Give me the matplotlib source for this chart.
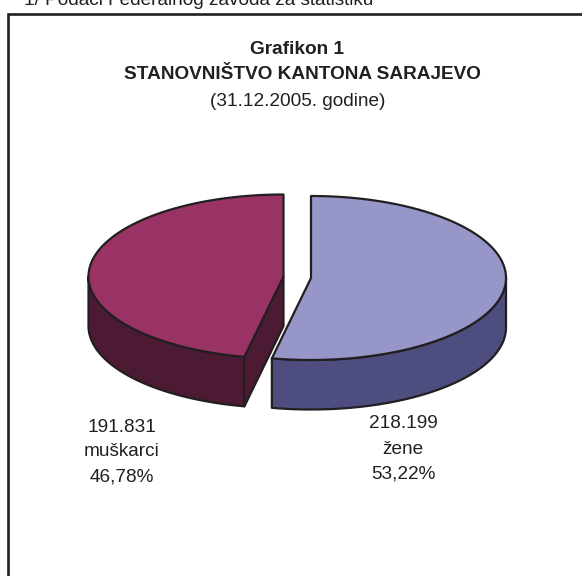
import numpy as np
import matplotlib
matplotlib.use("Agg")
import matplotlib.pyplot as plt
from matplotlib.patches import Polygon, Rectangle

plt.rcParams['font.family'] = ['Liberation Sans', 'DejaVu Sans']

categories = ["žene", "muškarci"]
values = [218199, 191831]
value_labels = ["218.199", "191.831"]
pct_labels = ["53,22%", "46,78%"]
top_colors = ["#9696C8", "#993366"]
side_colors = ["#4D4D80", "#4C1A33"]
INK = "#231F20"

W, H = 582, 576
fig = plt.figure(figsize=(W / 100, H / 100), dpi=100, facecolor="white")
ax = fig.add_axes([0, 0, 1, 1])
ax.set_xlim(0, W)
ax.set_ylim(H, 0)
ax.axis("off")

RX, RY, DEPTH = 195.0, 82.0, 49.5
centers = [(311.0, 278.0), (283.5, 276.5)]
shares = np.array(values) / np.sum(values)
sweep = shares * 360.0


def rim(cx, cy, a0, a1, n=160):
    t = np.radians(np.linspace(a0, a1, n))
    return np.column_stack([cx + RX * np.cos(t), cy - RY * np.sin(t)])


def draw(pts, color, z):
    ax.add_patch(Polygon(pts, closed=True, facecolor=color, edgecolor=INK,
                         linewidth=1.6, joinstyle="round", zorder=z))


# right slice: clockwise from 12 o'clock
cx, cy = centers[0]
end = 90.0 - sweep[0]
front = rim(cx, cy, 0.0, end)
draw(np.vstack([front, (front + [0, DEPTH])[::-1]]), side_colors[0], 2)
draw(np.vstack([[(cx, cy)], rim(cx, cy, 90.0, end)]), top_colors[0], 3)

# left slice: counter-clockwise from 12 o'clock
cx, cy = centers[1]
end = 90.0 + sweep[1]
front = rim(cx, cy, 180.0, end)
draw(np.vstack([front, (front + [0, DEPTH])[::-1]]), side_colors[1], 4)
tip = front[-1]
draw(np.array([(cx, cy), tip, tip + [0, DEPTH], (cx, cy + DEPTH)]), side_colors[1], 4)
draw(np.vstack([[(cx, cy)], rim(cx, cy, 90.0, end)]), top_colors[1], 5)

# chart frame (runs off the right and bottom of the crop)
ax.plot([7.5, 7.5, W + 5], [H + 5, 13.5, 13.5], color=INK, lw=1.9,
        solid_joinstyle="miter", clip_on=True, zorder=6)


def txt(x, y, s, size=13.7, weight="normal", **kw):
    return ax.text(x, y, s, fontsize=size, fontweight=weight, color=INK,
                   ha="center", va="center", **kw)


ax.text(24, 5, "1/ Podaci Federalnog zavoda za statistiku", fontsize=13.7,
        color=INK, ha="left", va="baseline")

txt(297.5, 50, "Grafikon 1", weight="bold")
title = txt(302, 74.5, "STANOVNIŠTVO KANTONA SARAJEVO", weight="bold")
title.set_clip_path(Rectangle((0, 0), 480.5, H, transform=ax.transData))
txt(298, 101.5, "(31.12.2005. godine)")

for i, x, y0 in [(0, 403, 424), (1, 122, 427)]:
    for k, s in enumerate([value_labels[i], categories[i], pct_labels[i]]):
        txt(x, y0 + 25 * k, s)

fig.savefig("out.png", dpi=100, facecolor="white")
